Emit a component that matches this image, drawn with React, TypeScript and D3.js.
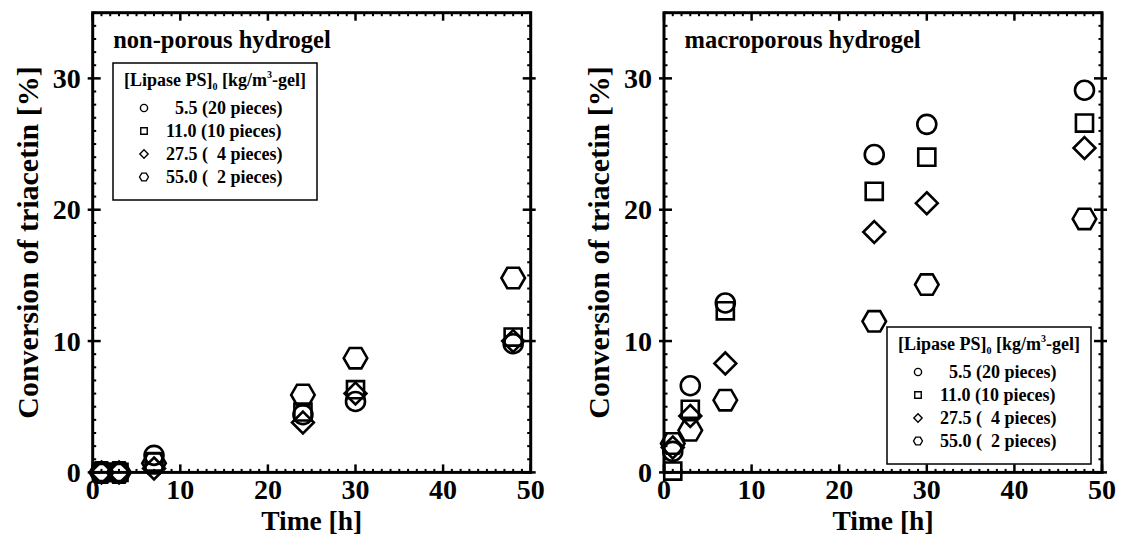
import React from 'react';
import * as d3 from 'd3';

// sampling times [h]
const times = [1, 3, 7, 24, 30, 48];

// non-porous hydrogel, conversion [%]
const nonPorous55 = [0, 0, 1.3, 4.4, 5.4, 9.8];
const nonPorous110 = [0, 0, 0.8, 4.6, 6.3, 10.3];
const nonPorous275 = [0, 0, 0.3, 3.8, 6.0, 10.0];
const nonPorous550 = [0, 0, 0.7, 5.9, 8.7, 14.8];

// macroporous hydrogel, conversion [%]
const macro55 = [1.6, 6.6, 12.9, 24.2, 26.5, 29.1];
const macro110 = [0.1, 4.8, 12.3, 21.4, 24.0, 26.6];
const macro275 = [1.9, 4.3, 8.3, 18.3, 20.5, 24.7];
const macro550 = [2.2, 3.2, 5.5, 11.5, 14.3, 19.3];

const legendLabels = ['  5.5 (20 pieces)', '11.0 (10 pieces)', '27.5 (  4 pieces)', '55.0 (  2 pieces)'];
const shapes = ['circle', 'square', 'diamond', 'hexagon'];
const xTicks = [0, 10, 20, 30, 40, 50];
const yTicks = [0, 10, 20, 30];

const FONT = '"Liberation Serif", "Times New Roman", serif';

const markerPath = (shape: string, r: number) => {
  const p = d3.path();
  if (shape === 'circle') {
    p.arc(0, 0, r, 0, Math.PI * 2);
  } else if (shape === 'square') {
    const s = r * 0.9;
    p.rect(-s, -s, s * 2, s * 2);
  } else if (shape === 'diamond') {
    const s = r * 1.15;
    p.moveTo(0, -s);
    p.lineTo(s, 0);
    p.lineTo(0, s);
    p.lineTo(-s, 0);
    p.closePath();
  } else {
    // flat top / bottom hexagon
    const s = r * 1.24;
    for (let i = 0; i < 6; i++) {
      const a = (Math.PI / 3) * i;
      if (i === 0) p.moveTo(s * Math.cos(a), s * Math.sin(a));
      else p.lineTo(s * Math.cos(a), s * Math.sin(a));
    }
    p.closePath();
  }
  return p.toString();
};

interface PanelProps {
  left: number;
  title: string;
  series: number[][];
  legendX: number;
  legendY: number;
}

const top = 12.7;
const bottom = 472.4;
const plotW = 438;

const Panel: React.FC<PanelProps> = ({ left, title, series, legendX, legendY }) => {
  const x = d3.scaleLinear().domain([0, 50]).range([left, left + plotW]);
  const y = d3.scaleLinear().domain([0, 35]).range([bottom, top]);
  const minorX = d3.range(0, 51, 1).filter((v) => v % 10 !== 0);
  const minorY = d3.range(0, 36, 1).filter((v) => v % 10 !== 0);
  const boxW = 204;
  const boxH = 137;

  return (
    <g>
      {/* minor ticks */}
      {minorX.map((v) => (
        <g key={'mx' + v} stroke="#000" strokeWidth={2}>
          <line x1={x(v)} x2={x(v)} y1={bottom} y2={bottom - 3.5} />
          <line x1={x(v)} x2={x(v)} y1={top} y2={top + 3.5} />
        </g>
      ))}
      {minorY.map((v) => (
        <g key={'my' + v} stroke="#000" strokeWidth={2}>
          <line x1={left} x2={left + 3.5} y1={y(v)} y2={y(v)} />
          <line x1={left + plotW} x2={left + plotW - 3.5} y1={y(v)} y2={y(v)} />
        </g>
      ))}
      {/* major ticks */}
      {xTicks.map((v) => (
        <g key={'Mx' + v} stroke="#000" strokeWidth={2.5}>
          <line x1={x(v)} x2={x(v)} y1={bottom} y2={bottom - 8} />
          <line x1={x(v)} x2={x(v)} y1={top} y2={top + 8} />
        </g>
      ))}
      {yTicks.map((v) => (
        <g key={'My' + v} stroke="#000" strokeWidth={2.5}>
          <line x1={left - 5} x2={left + 8} y1={y(v)} y2={y(v)} />
          <line x1={left + plotW + 5} x2={left + plotW - 8} y1={y(v)} y2={y(v)} />
        </g>
      ))}
      <rect x={left} y={top} width={plotW} height={bottom - top} fill="none" stroke="#000" strokeWidth={3} />

      {/* tick labels */}
      {xTicks.map((v) => (
        <text key={'lx' + v} x={x(v)} y={bottom + 26.5} textAnchor="middle" fontSize={28} fontWeight="bold" fontFamily={FONT}>
          {v}
        </text>
      ))}
      {yTicks.map((v) => (
        <text key={'ly' + v} x={left - 12} y={y(v) + 9.5} textAnchor="end" fontSize={28} fontWeight="bold" fontFamily={FONT}>
          {v}
        </text>
      ))}

      {/* axis titles */}
      <text x={x(25)} y={530} textAnchor="middle" fontSize={27.5} fontWeight="bold" fontFamily={FONT}>
        Time [h]
      </text>
      <text
        transform={`translate(${left - 55}, ${(top + bottom) / 2}) rotate(-90)`}
        textAnchor="middle"
        fontSize={30}
        fontWeight="bold"
        fontFamily={FONT}
      >
        Conversion of triacetin [%]
      </text>

      <text x={left + 20.5} y={47.5} fontSize={24.5} fontWeight="bold" fontFamily={FONT}>
        {title}
      </text>

      {/* data */}
      {series.map((vals, si) => (
        <g key={'s' + si}>
          {vals.map((v, i) => (
            <path
              key={i}
              d={markerPath(shapes[si], 9.5)}
              transform={`translate(${x(times[i])}, ${y(v)})`}
              fill="none"
              stroke="#000"
              strokeWidth={2.6}
            />
          ))}
        </g>
      ))}

      {/* legend */}
      <rect x={legendX} y={legendY} width={boxW} height={boxH} fill="#fff" stroke="#000" strokeWidth={1.5} />
      <text x={legendX + boxW / 2} y={legendY + 23} textAnchor="middle" fontSize={18} fontWeight="bold" fontFamily={FONT}>
        [Lipase PS]
        <tspan fontSize={10} dy={4}>0</tspan>
        <tspan dy={-4}> [kg/m</tspan>
        <tspan fontSize={10} dy={-8}>3</tspan>
        <tspan dy={8}>-gel]</tspan>
      </text>
      {legendLabels.map((lab, i) => (
        <g key={'lg' + i}>
          <path
            d={markerPath(shapes[i], 3.6)}
            transform={`translate(${legendX + 31}, ${legendY + 45 + i * 23})`}
            fill="none"
            stroke="#000"
            strokeWidth={1.4}
          />
          <text
            x={legendX + 53}
            y={legendY + 51 + i * 23}
            fontSize={18}
            fontWeight="bold"
            fontFamily={FONT}
            style={{ whiteSpace: 'pre' }}
          >
            {lab}
          </text>
        </g>
      ))}
    </g>
  );
};

const App: React.FC = () => {
  return (
    <svg width={1124} height={535} style={{ position: 'absolute', left: 0, top: 0, background: '#fff' }}>
      <Panel
        left={92.7}
        title="non-porous hydrogel"
        series={[nonPorous55, nonPorous110, nonPorous275, nonPorous550]}
        legendX={113}
        legendY={63}
      />
      <Panel
        left={664}
        title="macroporous hydrogel"
        series={[macro55, macro110, macro275, macro550]}
        legendX={887}
        legendY={327}
      />
    </svg>
  );
};

export default App;
